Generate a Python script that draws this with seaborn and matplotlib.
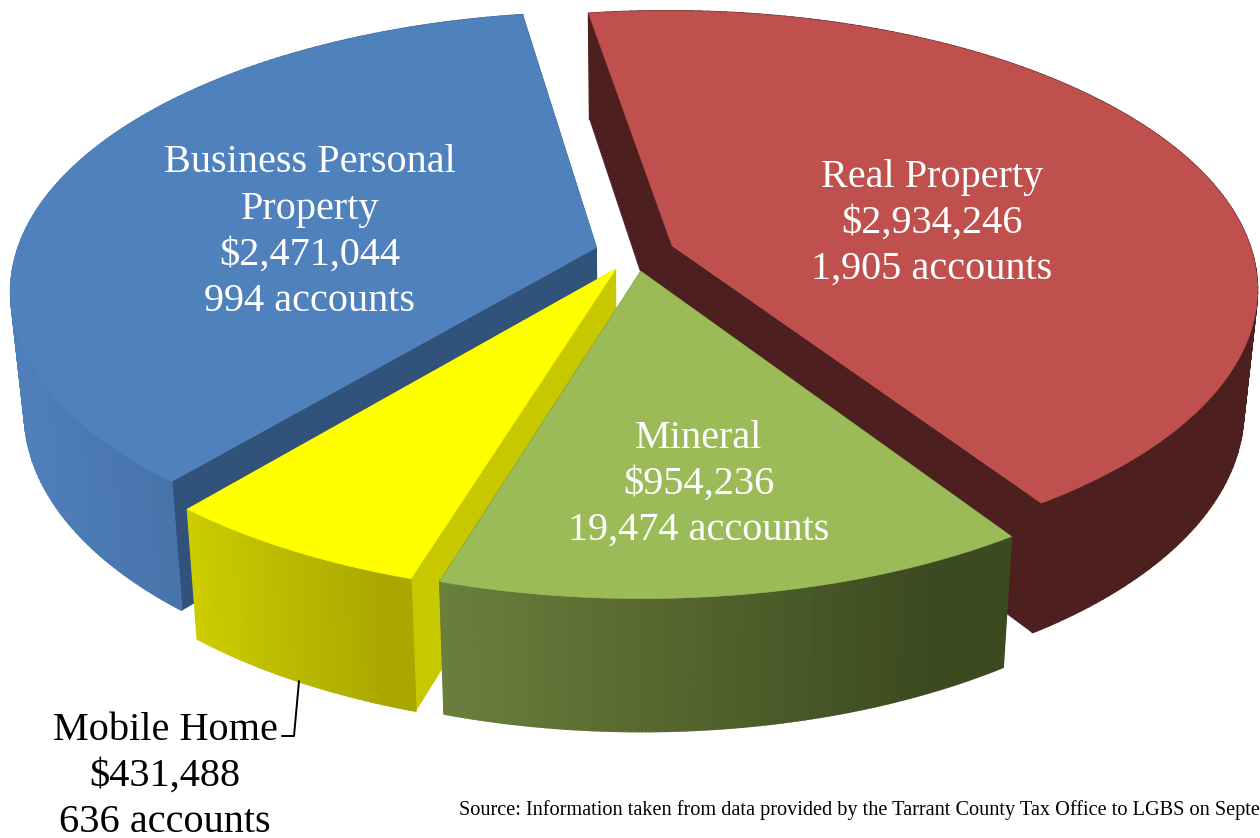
import numpy as np
import matplotlib.pyplot as plt
import seaborn as sns

sns.set_theme(style='white')
plt.rcParams['font.family'] = ['Liberation Serif', 'DejaVu Serif']

# slices, clockwise from the first slice angle
names = ['Real Property', 'Mineral', 'Mobile Home', 'Business Personal\nProperty']
values = [2934246, 954236, 431488, 2471044]
accounts = [1905, 19474, 636, 994]
source_text = 'Source: Information taken from data provided by the Tarrant County Tax Office to LGBS on Septe'

top_colors = ['#c0504d', '#9bbb59', '#ffff00', '#4f81bd']
cut_colors = ['#4d1f1f', '#3d4a21', '#c8c800', '#31527a']
rim_from = ['#4d1f1f', '#6a7f3c', '#cccc00', '#4f7fba']
rim_to = ['#4d1f1f', '#3c4a20', '#aaa800', '#3a5f90']
text_colors = ['white', 'white', 'black', 'white']
label_pos = [(932, 177), (699, 438), (165, 730), (310, 163)]

# 3d look of the pie
cx, cy = 635, 252.5
rx, ry = 580, 272
persp = 0.15
depth = 119
depth_tilt = 0.11
shrink = 0.978
explode = 0.069
first_angle = -9.0
line_gap = 46


def project(u, v):
    s = 1 / (1 - persp * v)
    return cx + rx * u * s, cy + ry * v * s


def project_low(u, v):
    # lower edge of the wall, a bit narrower than the top face
    x, y = project(u, v)
    return cx + (x - cx) * shrink, y + depth * (1 + depth_tilt * v)


def direction(theta):
    return np.sin(theta), -np.cos(theta)


fig, ax = plt.subplots(figsize=(12.6, 8.38), dpi=100)
fig.subplots_adjust(0, 0, 1, 1)
ax.set_xlim(0, 1260)
ax.set_ylim(838, 0)
ax.axis('off')

angles = np.array(values) / sum(values) * 2 * np.pi
starts = np.radians(first_angle) + np.concatenate([[0], np.cumsum(angles)[:-1]])

# back to front: real, business, mobile, mineral
for i in [0, 3, 2, 1]:
    a0, a1 = starts[i], starts[i] + angles[i]
    mu, mv = direction((a0 + a1) / 2)
    ou, ov = explode * mu, explode * mv
    th = np.linspace(a0, a1, 160)
    u = ou + np.sin(th)
    v = ov - np.cos(th)

    # cut faces
    for a in [a0, a1]:
        eu, ev = ou + np.sin(a), ov - np.cos(a)
        x0, y0 = project(np.array([ou, eu]), np.array([ov, ev]))
        x1, y1 = project_low(np.array([eu, ou]), np.array([ev, ov]))
        ax.fill(np.r_[x0, x1], np.r_[y0, y1], color=cut_colors[i], lw=0.5)

    # rim with a gradient left to right on screen
    xt, yt = project(u, v)
    xb, yb = project_low(u, v)
    grad = sns.blend_palette([rim_from[i], rim_to[i]], 60)
    lo, hi = xt.min(), xt.max()
    for k in range(len(th) - 1):
        pos = ((xt[k] + xt[k + 1]) / 2 - lo) / max(hi - lo, 1) * 1.15
        col = grad[int(np.clip(pos, 0, 0.999) * 60)]
        ax.fill([xt[k], xt[k + 1], xb[k + 1], xb[k]],
                [yt[k], yt[k + 1], yb[k + 1], yb[k]], color=col, lw=1.2)

    # top face
    x, y = project(np.r_[ou, u], np.r_[ov, v])
    ax.fill(x, y, color=top_colors[i], lw=0.5)

for i in range(len(names)):
    lines = names[i].split('\n') + [f'${values[i]:,}', f'{accounts[i]:,} accounts']
    lx, ly = label_pos[i]
    for n, line in enumerate(lines):
        ax.text(lx, ly + n * line_gap, line, color=text_colors[i], fontsize=29,
                ha='center', va='center')

# leader for the small slice
ax.plot([299, 294, 282], [681, 736, 736], color='black', lw=1.4)

ax.text(459, 810, source_text, fontsize=14.6, color='black', ha='left', va='center')

plt.savefig('out.png', dpi=100)
